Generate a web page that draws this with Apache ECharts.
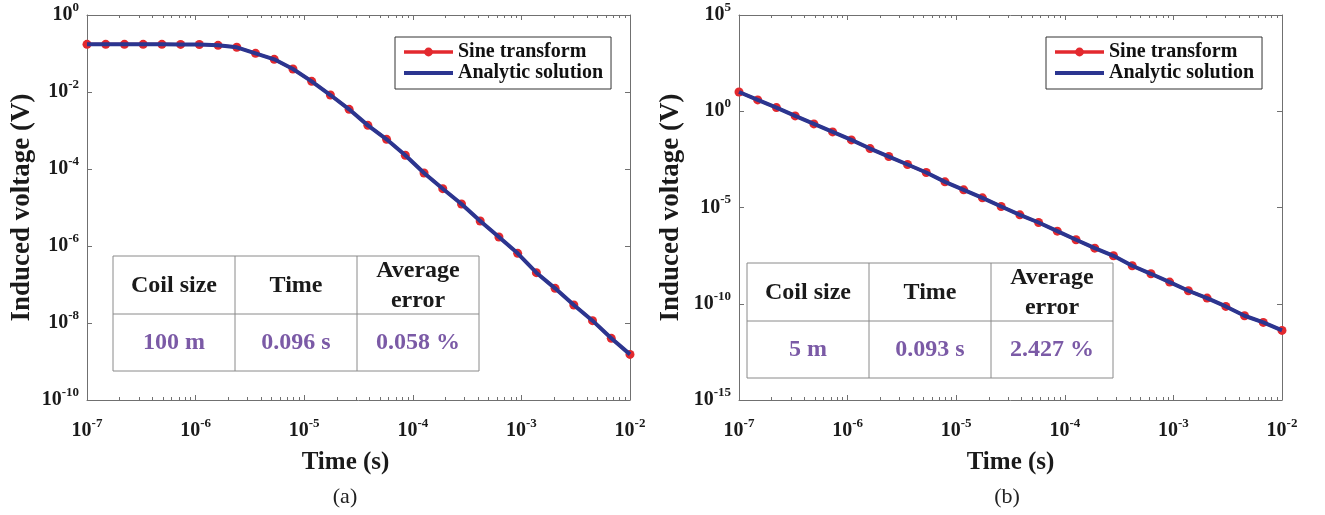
<!DOCTYPE html>
<html><head><meta charset="utf-8">
<script src="https://cdn.jsdelivr.net/npm/echarts@6/dist/echarts.min.js"></script>
<style>html,body{margin:0;padding:0;background:#fff}#c{width:1325px;height:515px}</style>
</head><body><div id="c"></div>
<script>
// ---- data ----
const times = [1.000e-7, 1.487e-7, 2.212e-7, 3.290e-7, 4.894e-7, 7.279e-7, 1.083e-6, 1.610e-6, 2.395e-6, 3.562e-6,
  5.298e-6, 7.880e-6, 1.172e-5, 1.743e-5, 2.593e-5, 3.857e-5, 5.736e-5, 8.532e-5, 1.269e-4, 1.887e-4,
  2.807e-4, 4.175e-4, 6.210e-4, 9.237e-4, 1.374e-3, 2.043e-3, 3.039e-3, 4.520e-3, 6.723e-3, 1.000e-2];
const sineA = [0.173, 0.173, 0.173, 0.173, 0.173, 0.172, 0.171, 0.163, 0.145, 0.101,
  0.0705, 0.0396, 0.0189, 8.35e-3, 3.55e-3, 1.36e-3, 5.9e-4, 2.27e-4, 7.87e-5, 3.08e-5,
  1.23e-5, 4.46e-6, 1.71e-6, 6.45e-7, 2.03e-7, 7.94e-8, 2.94e-8, 1.15e-8, 4.0e-9, 1.53e-9];
const analyticA = [0.173, 0.173, 0.173, 0.173, 0.173, 0.172, 0.171, 0.163, 0.145, 0.101,
  0.0705, 0.0396, 0.0189, 8.35e-3, 3.55e-3, 1.36e-3, 5.9e-4, 2.27e-4, 7.87e-5, 3.08e-5,
  1.23e-5, 4.46e-6, 1.71e-6, 6.45e-7, 2.03e-7, 7.94e-8, 2.94e-8, 1.15e-8, 4.0e-9, 1.53e-9];
const sineB = [10.0, 3.87, 1.55, 0.573, 0.220, 0.0846, 0.0325, 0.01153, 4.43e-3, 1.71e-3,
  6.56e-4, 2.15e-4, 8.26e-5, 3.18e-5, 1.13e-5, 4.16e-6, 1.66e-6, 5.91e-7, 2.10e-7, 7.75e-8,
  3.10e-8, 9.38e-9, 3.60e-9, 1.33e-9, 4.73e-10, 1.97e-10, 7.27e-11, 2.38e-11, 1.07e-11, 4.13e-12];
const analyticB = [10.0, 3.87, 1.55, 0.573, 0.220, 0.0846, 0.0325, 0.01153, 4.43e-3, 1.71e-3,
  6.56e-4, 2.15e-4, 8.26e-5, 3.18e-5, 1.13e-5, 4.16e-6, 1.66e-6, 5.91e-7, 2.10e-7, 7.75e-8,
  3.10e-8, 9.38e-9, 3.60e-9, 1.33e-9, 4.73e-10, 1.97e-10, 7.27e-11, 2.38e-11, 1.07e-11, 4.13e-12];

const xTickValues = [1e-7, 1e-6, 1e-5, 1e-4, 1e-3, 1e-2];
const yTickValuesA = [1e-10, 1e-8, 1e-6, 1e-4, 1e-2, 1];
const yTickValuesB = [1e-15, 1e-10, 1e-5, 1, 1e5];
const minorMultipliers = [2, 3, 4, 5, 6, 7, 8, 9];
const legendNames = ['Sine transform', 'Analytic solution'];
const xTitle = 'Time (s)';
const yTitle = 'Induced voltage (V)';
const tableHeaders = ['Coil size', 'Time', 'Average\nerror'];
const tableValuesA = ['100 m', '0.096 s', '0.058 %'];
const tableValuesB = ['5 m', '0.093 s', '2.427 %'];
const captions = ['(a)', '(b)'];

// ---- styling ----
const FONT = 'Liberation Serif';
const AXC = '#707070';
const RED = '#e3292e';
const BLUE = '#2b3590';
const PURPLE = '#7b5aa6';

const lg = Math.log10;
const xMinExp = Math.round(lg(xTickValues[0]));
const xMaxExp = Math.round(lg(xTickValues[xTickValues.length - 1]));
const minorExps = [];
for (let d = xMinExp; d < xMaxExp; d++) minorMultipliers.forEach(m => minorExps.push(d + lg(m)));

function fmt(v) { return '{b|10}{s|' + Math.round(lg(v)) + '}'; }
const rich = {
  b: { fontFamily: FONT, fontWeight: 'bold', fontSize: 20, color: '#1a1a1a', lineHeight: 28, verticalAlign: 'middle' },
  s: { fontFamily: FONT, fontWeight: 'bold', fontSize: 13, color: '#1a1a1a', lineHeight: 10, verticalAlign: 'top' }
};

const panels = [
  { grid: { left: 87, top: 15, width: 543, height: 385 }, yTicks: yTickValuesA, sine: sineA, analytic: analyticA,
    yNameGap: 51, xNamePad: [0, 26, 0, 0], legendLeft: 395, table: { x: 113, y: 256 }, vals: tableValuesA, capX: 345 },
  { grid: { left: 739, top: 15, width: 543, height: 385 }, yTicks: yTickValuesB, sine: sineB, analytic: analyticB,
    yNameGap: 54, xNamePad: [0, 0, 0, 0], legendLeft: 1046, table: { x: 747, y: 263 }, vals: tableValuesB, capX: 1007 }
];

const option = { animation: false, backgroundColor: '#fff', grid: [], xAxis: [], yAxis: [], series: [], legend: [], graphic: [] };

panels.forEach((p, i) => {
  option.grid.push(Object.assign({ containLabel: false, outerBoundsMode: 'none' }, p.grid));
  const axLine = { show: true, onZero: false, lineStyle: { color: AXC, width: 1 } };
  const majTick = { show: true, inside: true, length: 5, lineStyle: { color: AXC, width: 1 } };
  const minTick = { show: true, inside: true, length: 3, lineStyle: { color: AXC, width: 1 }, customValues: minorExps };
  const xMin = xTickValues[0], xMax = xTickValues[xTickValues.length - 1];
  option.xAxis.push({
    gridIndex: i, type: 'log', logBase: 10, min: xMin, max: xMax, interval: 1, position: 'bottom',
    axisLine: axLine, axisTick: majTick, splitLine: { show: false },
    axisLabel: { margin: 17, formatter: fmt, rich: rich, showMinLabel: true, showMaxLabel: true },
    name: xTitle, nameLocation: 'middle', nameGap: 50,
    nameTextStyle: { fontFamily: FONT, fontWeight: 'bold', fontSize: 25, color: '#1a1a1a', padding: p.xNamePad }
  });
  option.xAxis.push({
    gridIndex: i, type: 'log', logBase: 10, min: xMin, max: xMax, interval: 1, position: 'top',
    axisLine: axLine, axisTick: majTick, splitLine: { show: false }, axisLabel: { show: false }
  });
  ['bottom', 'top'].forEach(pos => option.xAxis.push({
    gridIndex: i, type: 'value', min: xMinExp, max: xMaxExp, position: pos,
    axisLine: { show: false, onZero: false }, axisTick: minTick, splitLine: { show: false }, axisLabel: { show: false }
  }));
  const yMin = p.yTicks[0], yMax = p.yTicks[p.yTicks.length - 1];
  const yInt = Math.round(lg(p.yTicks[1]) - lg(p.yTicks[0]));
  option.yAxis.push({
    gridIndex: i, type: 'log', logBase: 10, min: yMin, max: yMax, interval: yInt, position: 'left',
    axisLine: axLine, axisTick: majTick, splitLine: { show: false },
    axisLabel: { margin: 8, formatter: fmt, rich: rich, showMinLabel: true, showMaxLabel: true },
    name: yTitle, nameLocation: 'middle', nameRotate: 90, nameGap: p.yNameGap,
    nameTextStyle: { fontFamily: FONT, fontWeight: 'bold', fontSize: 27, color: '#1a1a1a' }
  });
  option.yAxis.push({
    gridIndex: i, type: 'log', logBase: 10, min: yMin, max: yMax, interval: yInt, position: 'right',
    axisLine: axLine, axisTick: majTick, splitLine: { show: false }, axisLabel: { show: false }
  });
  option.series.push({
    name: legendNames[0], type: 'line', xAxisIndex: i * 4, yAxisIndex: i * 2,
    data: times.map((t, k) => [t, p.sine[k]]), symbol: 'circle', symbolSize: 9, showSymbol: true,
    itemStyle: { color: RED }, lineStyle: { color: RED, width: 3 }, clip: false, z: 2
  });
  option.series.push({
    name: legendNames[1], type: 'line', xAxisIndex: i * 4, yAxisIndex: i * 2,
    data: times.map((t, k) => [t, p.analytic[k]]), symbol: 'none', showSymbol: false,
    itemStyle: { color: BLUE }, lineStyle: { color: BLUE, width: 4 }, clip: false, z: 3
  });
  option.legend.push({
    left: p.legendLeft, top: 37, orient: 'vertical', selectedMode: false,
    data: [
      { name: legendNames[0], lineStyle: { width: 3.5 } },
      { name: legendNames[1], lineStyle: { width: 4 }, itemStyle: { opacity: 0 } }
    ],
    itemWidth: 49, itemHeight: 11, itemGap: 1, padding: [5, 8, 6, 7],
    borderColor: '#333', borderWidth: 1, backgroundColor: '#fff',
    textStyle: { fontFamily: FONT, fontWeight: 'bold', fontSize: 20, color: '#111', lineHeight: 20 }
  });
  // table annotation
  const tx = p.table.x, ty = p.table.y, cw = 122, rh = 58, th = 115;
  const tableEls = [];
  tableEls.push({ type: 'rect', shape: { x: tx, y: ty, width: cw * 3, height: th }, style: { fill: '#fff', stroke: '#8a8a8a', lineWidth: 1 } });
  [1, 2].forEach(c => tableEls.push({ type: 'line', shape: { x1: tx + cw * c, y1: ty, x2: tx + cw * c, y2: ty + th }, style: { stroke: '#8a8a8a', lineWidth: 1 } }));
  tableEls.push({ type: 'line', shape: { x1: tx, y1: ty + rh, x2: tx + cw * 3, y2: ty + rh }, style: { stroke: '#8a8a8a', lineWidth: 1 } });
  tableHeaders.forEach((h, c) => tableEls.push({ type: 'text', x: tx + cw * c + cw / 2, y: ty + rh / 2 + 1,
    style: { text: h, align: 'center', verticalAlign: 'middle', fontFamily: FONT, fontWeight: 'bold', fontSize: 24, lineHeight: 30, fill: '#1a1a1a' } }));
  p.vals.forEach((v, c) => tableEls.push({ type: 'text', x: tx + cw * c + cw / 2, y: ty + rh + (th - rh) / 2,
    style: { text: v, align: 'center', verticalAlign: 'middle', fontFamily: FONT, fontWeight: 'bold', fontSize: 24, fill: PURPLE } }));
  option.graphic.push({ type: 'group', z: 100, children: tableEls });
  option.graphic.push({ type: 'text', x: p.capX, y: 497, z: 100,
    style: { text: captions[i], align: 'center', verticalAlign: 'middle', fontFamily: FONT, fontSize: 22, fill: '#222' } });
});

const chart = echarts.init(document.getElementById('c'), null, { renderer: 'canvas' });
chart.setOption(option);
</script>
</body></html>
